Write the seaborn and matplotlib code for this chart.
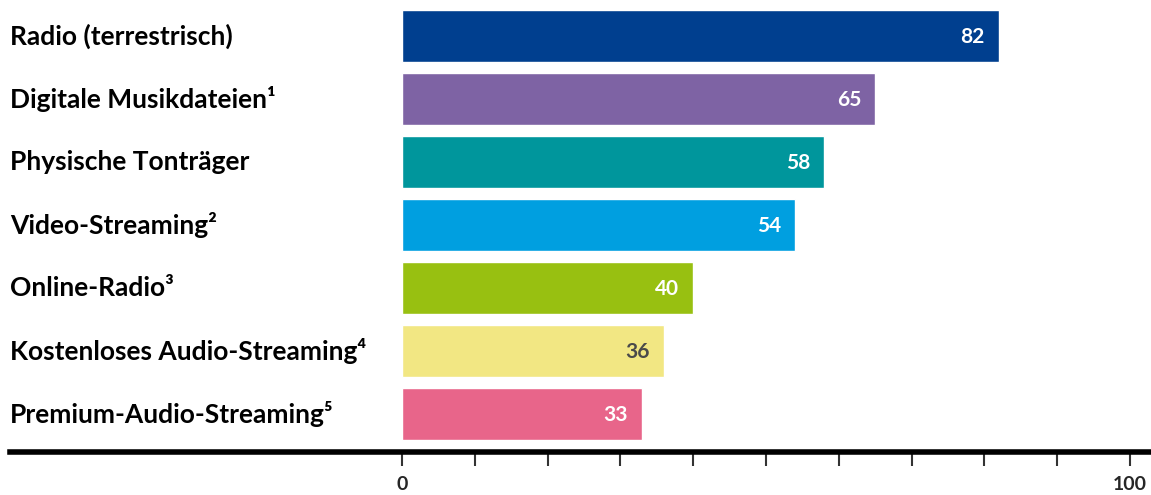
import matplotlib
matplotlib.use("Agg")
import matplotlib.pyplot as plt
import seaborn as sns
import pandas as pd

categories = ["Radio (terrestrisch)", "Digitale Musikdateien¹", "Physische Tonträger",
              "Video-Streaming²", "Online-Radio³", "Kostenloses Audio-Streaming⁴",
              "Premium-Audio-Streaming⁵"]
values = [82, 65, 58, 54, 40, 36, 33]
colors = ["#003F8F", "#7E63A4", "#00969C", "#009FE0", "#98C011", "#F2E783", "#E8658A"]
label_colors = ["white", "white", "white", "white", "white", "#4a4a4a", "white"]
tick_values = list(range(0, 101, 10))
tick_labels = ["0"] + [""] * 9 + ["100"]

sns.set_theme(style="white")
plt.rcParams['font.family'] = ['Lato', 'DejaVu Sans']

df = pd.DataFrame({"cat": categories, "val": values})

W, H = 1151, 495
fig = plt.figure(figsize=(W / 100, H / 100), dpi=100)
ax_left, ax_right = 10, 1150
ax_top, ax_bottom = 0, 451.5
ax = fig.add_axes([ax_left / W, 1 - ax_bottom / H, (ax_right - ax_left) / W, (ax_bottom - ax_top) / H])

sns.barplot(data=df, x="val", y="cat", hue="cat", palette=colors, legend=False,
            width=52 / 63, ax=ax, saturation=1)

# x scale: 0 at px 402, 100 at px 1130
px0, px100 = 402, 1130
scale = (px100 - px0) / 100
ax.set_xlim((ax_left - px0) / scale, (ax_right - px0) / scale)
ax.set_ylim(6 + 37.5 / 63, -36 / 63)

for i, (v, c) in enumerate(zip(values, label_colors)):
    ax.text(v - 14 / scale, i + 0.02, str(v), ha="right", va="center", color=c,
            fontsize=15, fontweight="bold")

ax.set_yticks([])
ax.set_ylabel("")
ax.set_xlabel("")
for i, cat in enumerate(categories):
    ax.text(0, i, cat, transform=ax.get_yaxis_transform(), ha="left", va="center",
            fontsize=19, fontweight="bold", color="black")

ax.set_xticks(tick_values)
ax.set_xticklabels(tick_labels, fontsize=14, fontweight="bold")
ax.tick_params(axis="x", bottom=True, length=10, width=1.5, color="#333333", pad=8)

for s in ["top", "right", "left"]:
    ax.spines[s].set_visible(False)
ax.spines["bottom"].set_linewidth(4)
ax.spines["bottom"].set_color("black")

fig.savefig("out.png", dpi=100)
